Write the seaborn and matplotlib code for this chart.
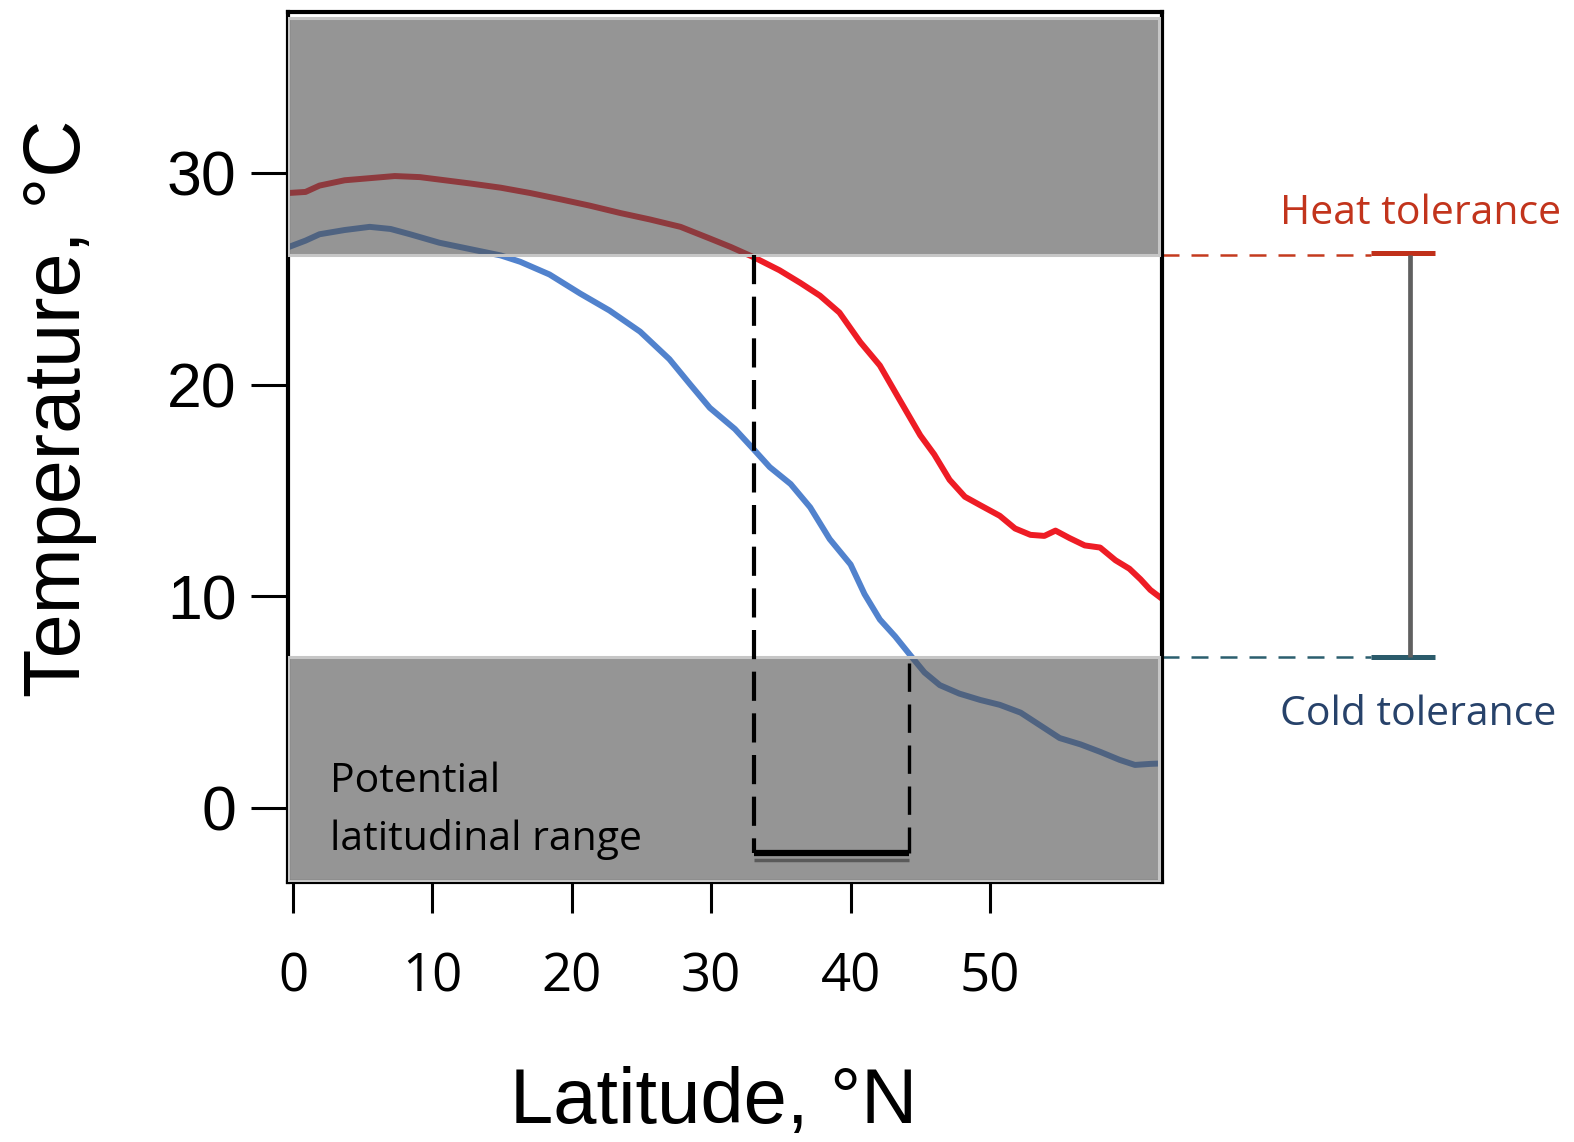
import matplotlib
matplotlib.use("Agg")
import matplotlib.pyplot as plt
import seaborn as sns
import pandas as pd
from matplotlib.patches import Rectangle

# ---- data ----
red_lat = [-0.3, 0.9, 1.9, 3.7, 5.5, 7.3, 9.1, 10.9, 12.7, 14.9, 17.0, 19.2, 21.3, 23.5, 25.6,
           27.8, 29.9, 31.4, 33.1, 34.9, 36.4, 37.8, 39.2, 40.7, 42.1, 43.5, 45.0, 46.0, 47.1,
           48.2, 49.3, 50.7, 51.8, 52.9, 53.9, 54.7, 55.7, 56.8, 57.9, 59.0, 60.0, 60.8, 61.5, 62.3]
red_temp = [29.05, 29.1, 29.4, 29.65, 29.75, 29.85, 29.8, 29.65, 29.5, 29.3, 29.05, 28.75, 28.45,
            28.1, 27.8, 27.45, 26.9, 26.5, 26.0, 25.4, 24.8, 24.2, 23.4, 22.0, 20.9, 19.3, 17.6,
            16.7, 15.5, 14.7, 14.3, 13.8, 13.2, 12.9, 12.85, 13.1, 12.75, 12.4, 12.3, 11.7, 11.3,
            10.8, 10.3, 9.9]
blue_lat = [-0.3, 0.9, 1.9, 3.7, 5.5, 7.0, 8.4, 10.5, 12.7, 14.9, 16.3, 18.4, 20.6, 22.7, 24.9,
            27.0, 28.5, 29.9, 31.7, 33.1, 34.2, 35.7, 37.1, 38.5, 40.0, 41.0, 42.1, 43.2, 44.3,
            45.3, 46.4, 47.8, 49.3, 50.7, 52.2, 53.6, 55.0, 56.5, 57.9, 59.3, 60.4, 61.5, 62.3]
blue_temp = [26.5, 26.8, 27.1, 27.3, 27.45, 27.35, 27.1, 26.7, 26.4, 26.1, 25.8, 25.2, 24.3, 23.5,
             22.5, 21.2, 20.0, 18.9, 17.9, 16.9, 16.1, 15.3, 14.2, 12.7, 11.5, 10.1, 8.9, 8.1,
             7.2, 6.4, 5.8, 5.4, 5.1, 4.87, 4.5, 3.9, 3.3, 3.0, 2.65, 2.27, 2.03, 2.08, 2.1]
heat_tol = 26.1
cold_tol = 7.13
range_lo = 33.1
range_hi = 44.2
x_ticks = [0, 10, 20, 30, 40, 50]
y_ticks = [0, 10, 20, 30]
xlim = (-0.36, 62.34)
ylim = (-3.5, 37.6)

sns.set_style("ticks")
plt.rcParams['font.family'] = ['Liberation Sans', 'DejaVu Sans']
plt.rcParams['text.color'] = 'black'
plt.rcParams['xtick.color'] = 'black'
plt.rcParams['ytick.color'] = 'black'

fig = plt.figure(figsize=(15.74, 11.42), dpi=100)
ax = fig.add_axes([288/1574, 1-882/1142, 874/1574, 870/1142])

df_red = pd.DataFrame({"lat": red_lat, "temp": red_temp})
df_blue = pd.DataFrame({"lat": blue_lat, "temp": blue_temp})
sns.lineplot(data=df_red, x="lat", y="temp", color="#ee1c25", lw=4.3, ax=ax, zorder=2,
             estimator=None, sort=True)
sns.lineplot(data=df_blue, x="lat", y="temp", color="#5182cd", lw=4.3, ax=ax, zorder=2,
             estimator=None, sort=True)

ax.set_xlim(*xlim)
ax.set_ylim(*ylim)

# gray zones (semi-transparent)
gray = (0.31, 0.31, 0.31, 0.6)
for y0, y1 in [(heat_tol, 37.3), (-3.45, cold_tol)]:
    ax.add_patch(Rectangle((xlim[0], y0), 62.1 - xlim[0], y1 - y0, facecolor=gray,
                           edgecolor="#c6c6c6", lw=2.2, zorder=3))

# range dashed lines and bar
ax.plot([range_lo, range_lo], [heat_tol, -2.15], color="black", lw=3.0,
        dashes=(7, 3), zorder=4)
ax.plot([range_hi, range_hi], [6.85, -2.15], color="black", lw=2.4,
        dashes=(8.5, 3.8), zorder=4)
ax.plot([range_lo, range_hi], [-2.45, -2.45], color="#5a5a5a", lw=2.5, zorder=4,
        solid_capstyle="butt")
ax.plot([range_lo, range_hi], [-2.15, -2.15], color="black", lw=4.5, zorder=5,
        solid_capstyle="butt")

ax.text(2.65, 1.22, "Potential", family="Open Sans", fontsize=29.5, color="black",
        ha="left", va="center", zorder=6)
ax.text(2.65, -1.47, "latitudinal range", family="Open Sans", fontsize=29.5, color="black",
        ha="left", va="center", zorder=6)

# tolerance annotations on the right (outside axes)
ax.plot([xlim[1], 77.3], [heat_tol, heat_tol], color="#c43a1e", lw=1.8, dashes=(6.8, 4.8),
        clip_on=False)
ax.plot([77.3, 81.9], [heat_tol + 0.12, heat_tol + 0.12], color="#c0301a", lw=3.6,
        clip_on=False, solid_capstyle="butt")
ax.plot([xlim[1], 77.3], [cold_tol, cold_tol], color="#2b5e6e", lw=1.8, dashes=(6.8, 4.8),
        clip_on=False)
ax.plot([77.3, 81.9], [cold_tol, cold_tol], color="#2b5b6b", lw=3.6,
        clip_on=False, solid_capstyle="butt")
ax.plot([80.1, 80.1], [heat_tol, cold_tol], color="#606060", lw=3.4, clip_on=False,
        solid_capstyle="butt")
ax.text(80.9, 28.05, "Heat tolerance", family="Open Sans", fontsize=29.5, color="#c2341c",
        ha="center", va="center", clip_on=False)
ax.text(80.7, 4.4, "Cold tolerance", family="Open Sans", fontsize=29.5, color="#27426a",
        ha="center", va="center", clip_on=False)

# axes styling
ax.set_xticks(x_ticks)
ax.set_yticks(y_ticks)
ax.set_xticklabels([str(v) for v in x_ticks], family="Open Sans", fontsize=38, color="black")
ax.set_yticklabels([str(v) for v in y_ticks], family="Liberation Sans", fontsize=45, color="black")
ax.tick_params(axis="x", length=22, width=2.2, pad=28, color="black")
ax.tick_params(axis="y", length=27, width=2.2, pad=10, color="black")
for s in ax.spines.values():
    s.set_visible(True)
    s.set_color("black")
    s.set_linewidth(3.0)
ax.set_xlabel("")
ax.set_ylabel("")

fig.text(80/1574, 1-408/1142, "Temperature, °C", rotation=90, rotation_mode="anchor",
         ha="center", va="baseline", fontsize=57, family="Liberation Sans", color="black")
fig.text(714/1574, 1-1123/1142, "Latitude, °N", ha="center", va="baseline",
         fontsize=56, family="Liberation Sans", color="black")

fig.savefig("out.png", dpi=100)
